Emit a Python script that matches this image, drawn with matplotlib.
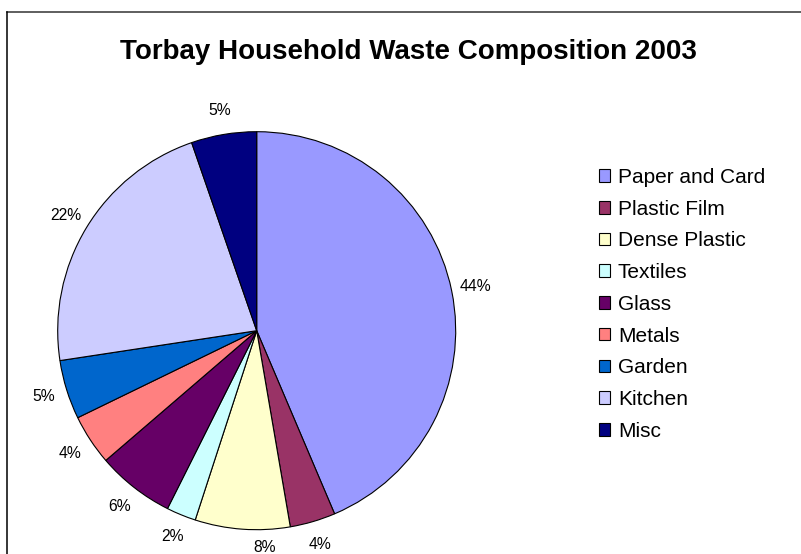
import matplotlib.pyplot as plt
from matplotlib.lines import Line2D

plt.rcParams['font.family'] = ['Liberation Sans', 'DejaVu Sans']

# Household waste composition, percentage by category
categories = ['Paper and Card', 'Plastic Film', 'Dense Plastic', 'Textiles',
              'Glass', 'Metals', 'Garden', 'Kitchen', 'Misc']
shares = [43.6, 3.7, 7.7, 2.4, 6.3, 4.1, 4.8, 22.1, 5.3]
colors = ['#9999FF', '#993366', '#FFFFCC', '#CCFFFF', '#660066',
          '#FF8080', '#0066CC', '#CCCCFF', '#000080']

W, H = 801, 554
fig = plt.figure(figsize=(W / 100, H / 100), dpi=100)

# pie axes sized so the circle has a radius of ~199 px
cx, cy, r = 256.7, 330.7, 199
ax = fig.add_axes([(cx - r) / W, (H - cy - r) / H, 2 * r / W, 2 * r / H])

wedges, _, pct = ax.pie(shares, colors=colors, startangle=90, counterclock=False,
                        autopct='%.0f%%', pctdistance=1.12,
                        wedgeprops=dict(edgecolor='black', linewidth=0.8),
                        textprops=dict(fontsize=11.3, color='black'))
ax.set_xlim(-1, 1)
ax.set_ylim(-1, 1)
# the Dense Plastic label sits right under the bottom of the pie
pct[2].set_position((0.04, -1.09))

fig.text(408 / W, 1 - 52 / H, 'Torbay Household Waste Composition 2003',
         ha='center', va='center', fontsize=20, fontweight='bold')

fig.legend(wedges, categories, loc='upper left',
           bbox_to_anchor=(599 / W, 1 - 168 / H), frameon=False,
           fontsize=15, handlelength=0.55, handleheight=0.55,
           handletextpad=0.35, labelspacing=0.61, borderpad=0, borderaxespad=0)

# chart area border (top and left edges)
top = 1 - 11.5 / H
left = 7 / W
fig.add_artist(Line2D([left, 1], [top, top], color='#333333', linewidth=1.1))
fig.add_artist(Line2D([left, left], [0, top], color='black', linewidth=1.1))

plt.savefig('out.png', dpi=100)
